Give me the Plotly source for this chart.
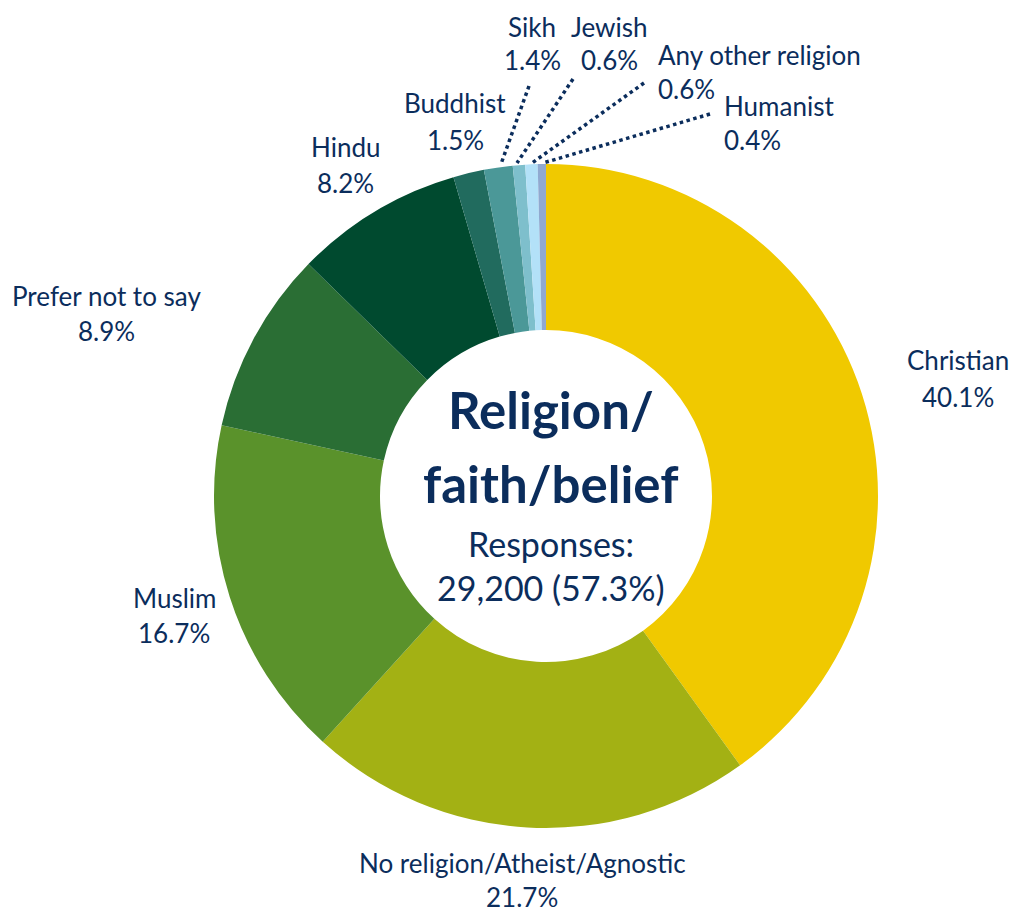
import plotly.graph_objects as go

labels = ["Christian", "No religion/Atheist/Agnostic", "Muslim", "Prefer not to say",
          "Hindu", "Buddhist", "Sikh", "Jewish", "Any other religion", "Humanist"]
values = [40.1, 21.7, 16.7, 8.9, 8.2, 1.5, 1.4, 0.6, 0.6, 0.4]
colors = ["#F0C900", "#A3B114", "#5A922B", "#2A6E34", "#004A2F",
          "#216B5E", "#4B9898", "#7EBFCC", "#B3E1F8", "#90A9D0"]

center_title = ["Religion/", "faith/belief"]
center_sub = ["Responses:", "29,200 (57.3%)"]

W, H = 1019, 914
NAVY = "#0B2D5C"
FONT = "Lato, 'Open Sans', sans-serif"

def px(x):
    return x / W

def py(y):
    return 1 - y / H

cx, cy, R = 546, 496, 332
tx = 551  # centre text x

fig = go.Figure(go.Pie(
    labels=labels, values=values, sort=False, direction="clockwise", rotation=0,
    hole=0.5, marker=dict(colors=colors, line=dict(width=0)),
    textinfo="none", hoverinfo="label+percent", showlegend=False,
    domain=dict(x=[px(cx - R), px(cx + R)], y=[py(cy + R), py(cy - R)]),
))

# label placement (pixel centres, anchor) for each slice
label_pos = {
    "Christian": (958, 360, 397, "center"),
    "No religion/Atheist/Agnostic": (522, 863, 897, "center"),
    "Muslim": (174, 598, 633, "center"),
    "Prefer not to say": (106, 296, 331, "center"),
    "Hindu": (345, 147, 183, "center"),
    "Buddhist": (455, 103, 140, "center"),
    "Sikh": (532, 27, 60, "center"),
    "Jewish": (609, 27, 60, "center"),
    "Any other religion": (656, 55, 89, "left"),
    "Humanist": (722, 106, 140, "left"),
}

annotations = []
for lab, val in zip(labels, values):
    x, y1, y2, anchor = label_pos[lab]
    for txt, yy in ((lab, y1), (f"{val:.1f}%", y2)):
        annotations.append(dict(
            x=px(x), y=py(yy), xref="paper", yref="paper", text=txt,
            showarrow=False, xanchor=anchor, yanchor="middle",
            font=dict(family=FONT, size=26, color=NAVY)))

for txt, yy in zip(center_title, (409, 483)):
    annotations.append(dict(x=px(tx), y=py(yy), xref="paper", yref="paper", text=f"<b>{txt}</b>",
                            showarrow=False, xanchor="center", yanchor="middle",
                            font=dict(family=FONT, size=51, color=NAVY)))
for txt, yy in zip(center_sub, (543, 587)):
    annotations.append(dict(x=px(tx), y=py(yy), xref="paper", yref="paper", text=txt,
                            showarrow=False, xanchor="center", yanchor="middle",
                            font=dict(family=FONT, size=34, color=NAVY)))

leaders = [((529, 86), (501, 164)), ((573, 79), (517, 163)),
           ((644, 83), (532, 163)), ((710, 114), (543, 163))]
shapes = []
for (x0, y0), (x1, y1) in leaders:
    shapes.append(dict(type="line", xref="paper", yref="paper",
                       x0=px(x0), y0=py(y0), x1=px(x1), y1=py(y1),
                       line=dict(color=NAVY, width=3.5, dash="dot")))

fig.update_layout(width=W, height=H, margin=dict(l=0, r=0, t=0, b=0),
                  paper_bgcolor="white", plot_bgcolor="white",
                  annotations=annotations, shapes=shapes)

fig.write_html("out.html")
